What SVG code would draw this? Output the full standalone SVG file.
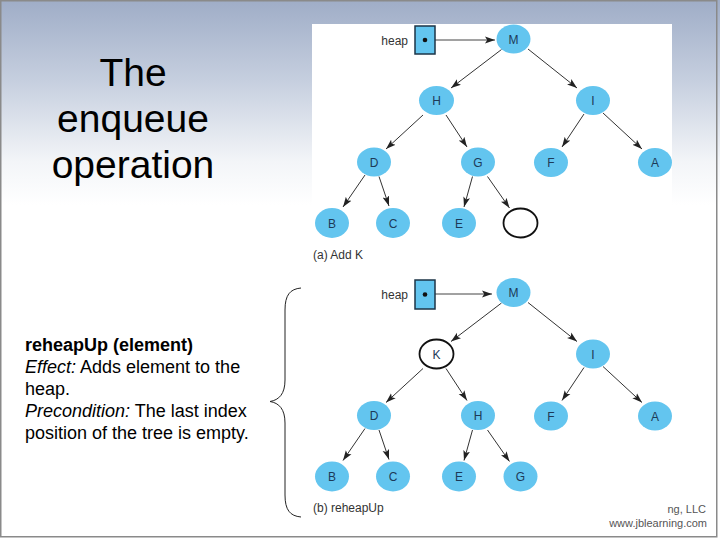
<svg xmlns="http://www.w3.org/2000/svg" width="720" height="540" viewBox="0 0 720 540">
<defs>
<linearGradient id="bg" x1="0" y1="0" x2="0" y2="1">
<stop offset="0" stop-color="#9fadc7"/>
<stop offset="0.15" stop-color="#c6cfdf"/>
<stop offset="0.3" stop-color="#f3f5f8"/>
<stop offset="0.38" stop-color="#ffffff"/>
<stop offset="1" stop-color="#ffffff"/>
</linearGradient>
<marker id="arr" markerUnits="userSpaceOnUse" markerWidth="10" markerHeight="8" refX="10" refY="4" orient="auto">
<path d="M0,0.6 L10,4 L0,7.4 L2.2,4 z" fill="#222"/>
</marker>
<style>
.n{fill:#63c5ef;}
.w{fill:#fff;stroke:#111;stroke-width:1.8;}
.lb{font-family:"Liberation Sans",Arial,sans-serif;font-size:12px;fill:#1d3a57;text-anchor:middle;}
.cap{font-family:"Liberation Sans",Arial,sans-serif;font-size:12px;fill:#333;}
.e{stroke:#333;stroke-width:1;fill:none;marker-end:url(#arr);}
.ptr{stroke:#444;stroke-width:1;fill:none;marker-end:url(#arr);}
.box{fill:#63c5ef;stroke:#1d3547;stroke-width:1.5;}
.title{font-family:"Liberation Sans",Arial,sans-serif;font-size:39px;fill:#000;text-anchor:middle;}
.body{font-family:"Liberation Sans",Arial,sans-serif;font-size:18px;fill:#000;}
.wm{font-family:"Liberation Sans",Arial,sans-serif;font-size:11px;fill:#555;text-anchor:end;}
</style>
</defs>
<rect x="0" y="0" width="720" height="540" fill="url(#bg)"/>
<rect x="312" y="24" width="360" height="246" fill="#fff"/>
<rect x="0.75" y="0.75" width="716" height="536" fill="none" stroke="#8a8a8a" stroke-width="1.5"/>

<g id="title">
<text class="title" x="133" y="86">The</text>
<text class="title" x="133" y="132">enqueue</text>
<text class="title" x="133" y="178">operation</text>
</g>
<g id="description">
<text class="body" x="25" y="351" font-weight="bold">reheapUp (element)</text>
<text class="body" x="25" y="373"><tspan font-style="italic">Effect:</tspan> Adds element to the</text>
<text class="body" x="25" y="395">heap.</text>
<text class="body" x="25" y="417"><tspan font-style="italic">Precondition:</tspan> The last index</text>
<text class="body" x="25" y="439">position of the tree is empty.</text>
</g>
<path id="brace" d="M301,288 C290,289 285,295 285,310 L285,380 C285,394 279,400 270,401.5 C279,403 285,409 285,423 L285,495 C285,510 290,516 301,517" fill="none" stroke="#222" stroke-width="1"/>

<g id="connectors">
<line class="ptr" x1="425" y1="40" x2="495" y2="40"/>
<line class="e" x1="501.5" y1="49.5" x2="451" y2="88"/>
<line class="e" x1="528" y1="49" x2="577" y2="88"/>
<line class="e" x1="423" y1="115" x2="386" y2="149"/>
<line class="e" x1="446" y1="115" x2="467" y2="147"/>
<line class="e" x1="584" y1="114" x2="562" y2="147"/>
<line class="e" x1="603" y1="113" x2="642" y2="149"/>
<line class="e" x1="365" y1="175" x2="343" y2="207"/>
<line class="e" x1="379" y1="176.5" x2="389" y2="206"/>
<line class="e" x1="472.5" y1="176.5" x2="464" y2="207"/>
<line class="e" x1="487.5" y1="176.5" x2="509.5" y2="208"/>

<line class="ptr" x1="425" y1="294" x2="492" y2="294" stroke="#888"/>
<line class="e" x1="501.5" y1="303" x2="451" y2="341.5"/>
<line class="e" x1="528" y1="302.5" x2="577" y2="341.5"/>
<line class="e" x1="423" y1="368.5" x2="386" y2="402.5"/>
<line class="e" x1="446" y1="368.5" x2="467" y2="400.5"/>
<line class="e" x1="584" y1="367.5" x2="562" y2="400.5"/>
<line class="e" x1="603" y1="366.5" x2="642" y2="402.5"/>
<line class="e" x1="365" y1="428.5" x2="343" y2="460.5"/>
<line class="e" x1="379" y1="430" x2="389" y2="459.5"/>
<line class="e" x1="472.5" y1="430" x2="464" y2="460.5"/>
<line class="e" x1="487.5" y1="430" x2="509.5" y2="461.5"/>
</g>

<g id="a-heap"><text class="cap" x="408" y="44.5" text-anchor="end">heap</text><rect class="box" x="415" y="26" width="20" height="28"/><circle cx="425" cy="40" r="2.3" fill="#111"/></g>
<g id="a-M"><ellipse class="n" cx="513.5" cy="39" rx="17" ry="14.5"/><text class="lb" x="513.5" y="43.5">M</text></g>
<g id="a-H"><ellipse class="n" cx="436.5" cy="100.5" rx="17.5" ry="14.5"/><text class="lb" x="436.5" y="105">H</text></g>
<g id="a-I"><ellipse class="n" cx="593" cy="100.5" rx="17" ry="14.5"/><text class="lb" x="593" y="105">I</text></g>
<g id="a-D"><ellipse class="n" cx="374" cy="162" rx="17" ry="14.5"/><text class="lb" x="374" y="166.5">D</text></g>
<g id="a-G"><ellipse class="n" cx="478" cy="162" rx="17" ry="14.5"/><text class="lb" x="478" y="166.5">G</text></g>
<g id="a-F"><ellipse class="n" cx="551" cy="162.5" rx="17" ry="14.5"/><text class="lb" x="551" y="167">F</text></g>
<g id="a-A"><ellipse class="n" cx="655" cy="162.5" rx="17" ry="14.5"/><text class="lb" x="655" y="167">A</text></g>
<g id="a-B"><ellipse class="n" cx="332" cy="223" rx="17" ry="15"/><text class="lb" x="332" y="227.5">B</text></g>
<g id="a-C"><ellipse class="n" cx="393" cy="223" rx="17" ry="15"/><text class="lb" x="393" y="227.5">C</text></g>
<g id="a-E"><ellipse class="n" cx="459" cy="223" rx="17" ry="15"/><text class="lb" x="459" y="227.5">E</text></g>
<g id="a-empty"><ellipse class="w" cx="520.5" cy="223" rx="17" ry="14.5"/></g>
<text class="cap" x="313" y="259">(a) Add K</text>

<g id="b-heap"><text class="cap" x="408" y="298.5" text-anchor="end">heap</text><rect class="box" x="415" y="280" width="20" height="29"/><circle cx="425" cy="294.5" r="2.3" fill="#111"/></g>
<g id="b-M"><ellipse class="n" cx="513.5" cy="292.5" rx="17" ry="14.5"/><text class="lb" x="513.5" y="297">M</text></g>
<g id="b-K"><ellipse class="w" cx="436.5" cy="354" rx="17" ry="14.5"/><text class="lb" x="436.5" y="358.5" fill="#222">K</text></g>
<g id="b-I"><ellipse class="n" cx="593" cy="354" rx="17" ry="14.5"/><text class="lb" x="593" y="358.5">I</text></g>
<g id="b-D"><ellipse class="n" cx="374" cy="415.5" rx="17" ry="14.5"/><text class="lb" x="374" y="420">D</text></g>
<g id="b-H"><ellipse class="n" cx="478" cy="415.5" rx="17" ry="14.5"/><text class="lb" x="478" y="420">H</text></g>
<g id="b-F"><ellipse class="n" cx="551" cy="416" rx="17" ry="14.5"/><text class="lb" x="551" y="420.5">F</text></g>
<g id="b-A"><ellipse class="n" cx="655" cy="416" rx="17" ry="14.5"/><text class="lb" x="655" y="420.5">A</text></g>
<g id="b-B"><ellipse class="n" cx="332" cy="476.5" rx="17" ry="15"/><text class="lb" x="332" y="481">B</text></g>
<g id="b-C"><ellipse class="n" cx="393" cy="476.5" rx="17" ry="15"/><text class="lb" x="393" y="481">C</text></g>
<g id="b-E"><ellipse class="n" cx="459" cy="476.5" rx="17" ry="15"/><text class="lb" x="459" y="481">E</text></g>
<g id="b-G"><ellipse class="n" cx="520.5" cy="476.5" rx="17" ry="15"/><text class="lb" x="520.5" y="481">G</text></g>
<text class="cap" x="313" y="512">(b) reheapUp</text>

<g id="watermark">
<text class="wm" x="706" y="513">ng, LLC</text>
<text class="wm" x="707" y="527">www.jblearning.com</text>
</g>
</svg>
